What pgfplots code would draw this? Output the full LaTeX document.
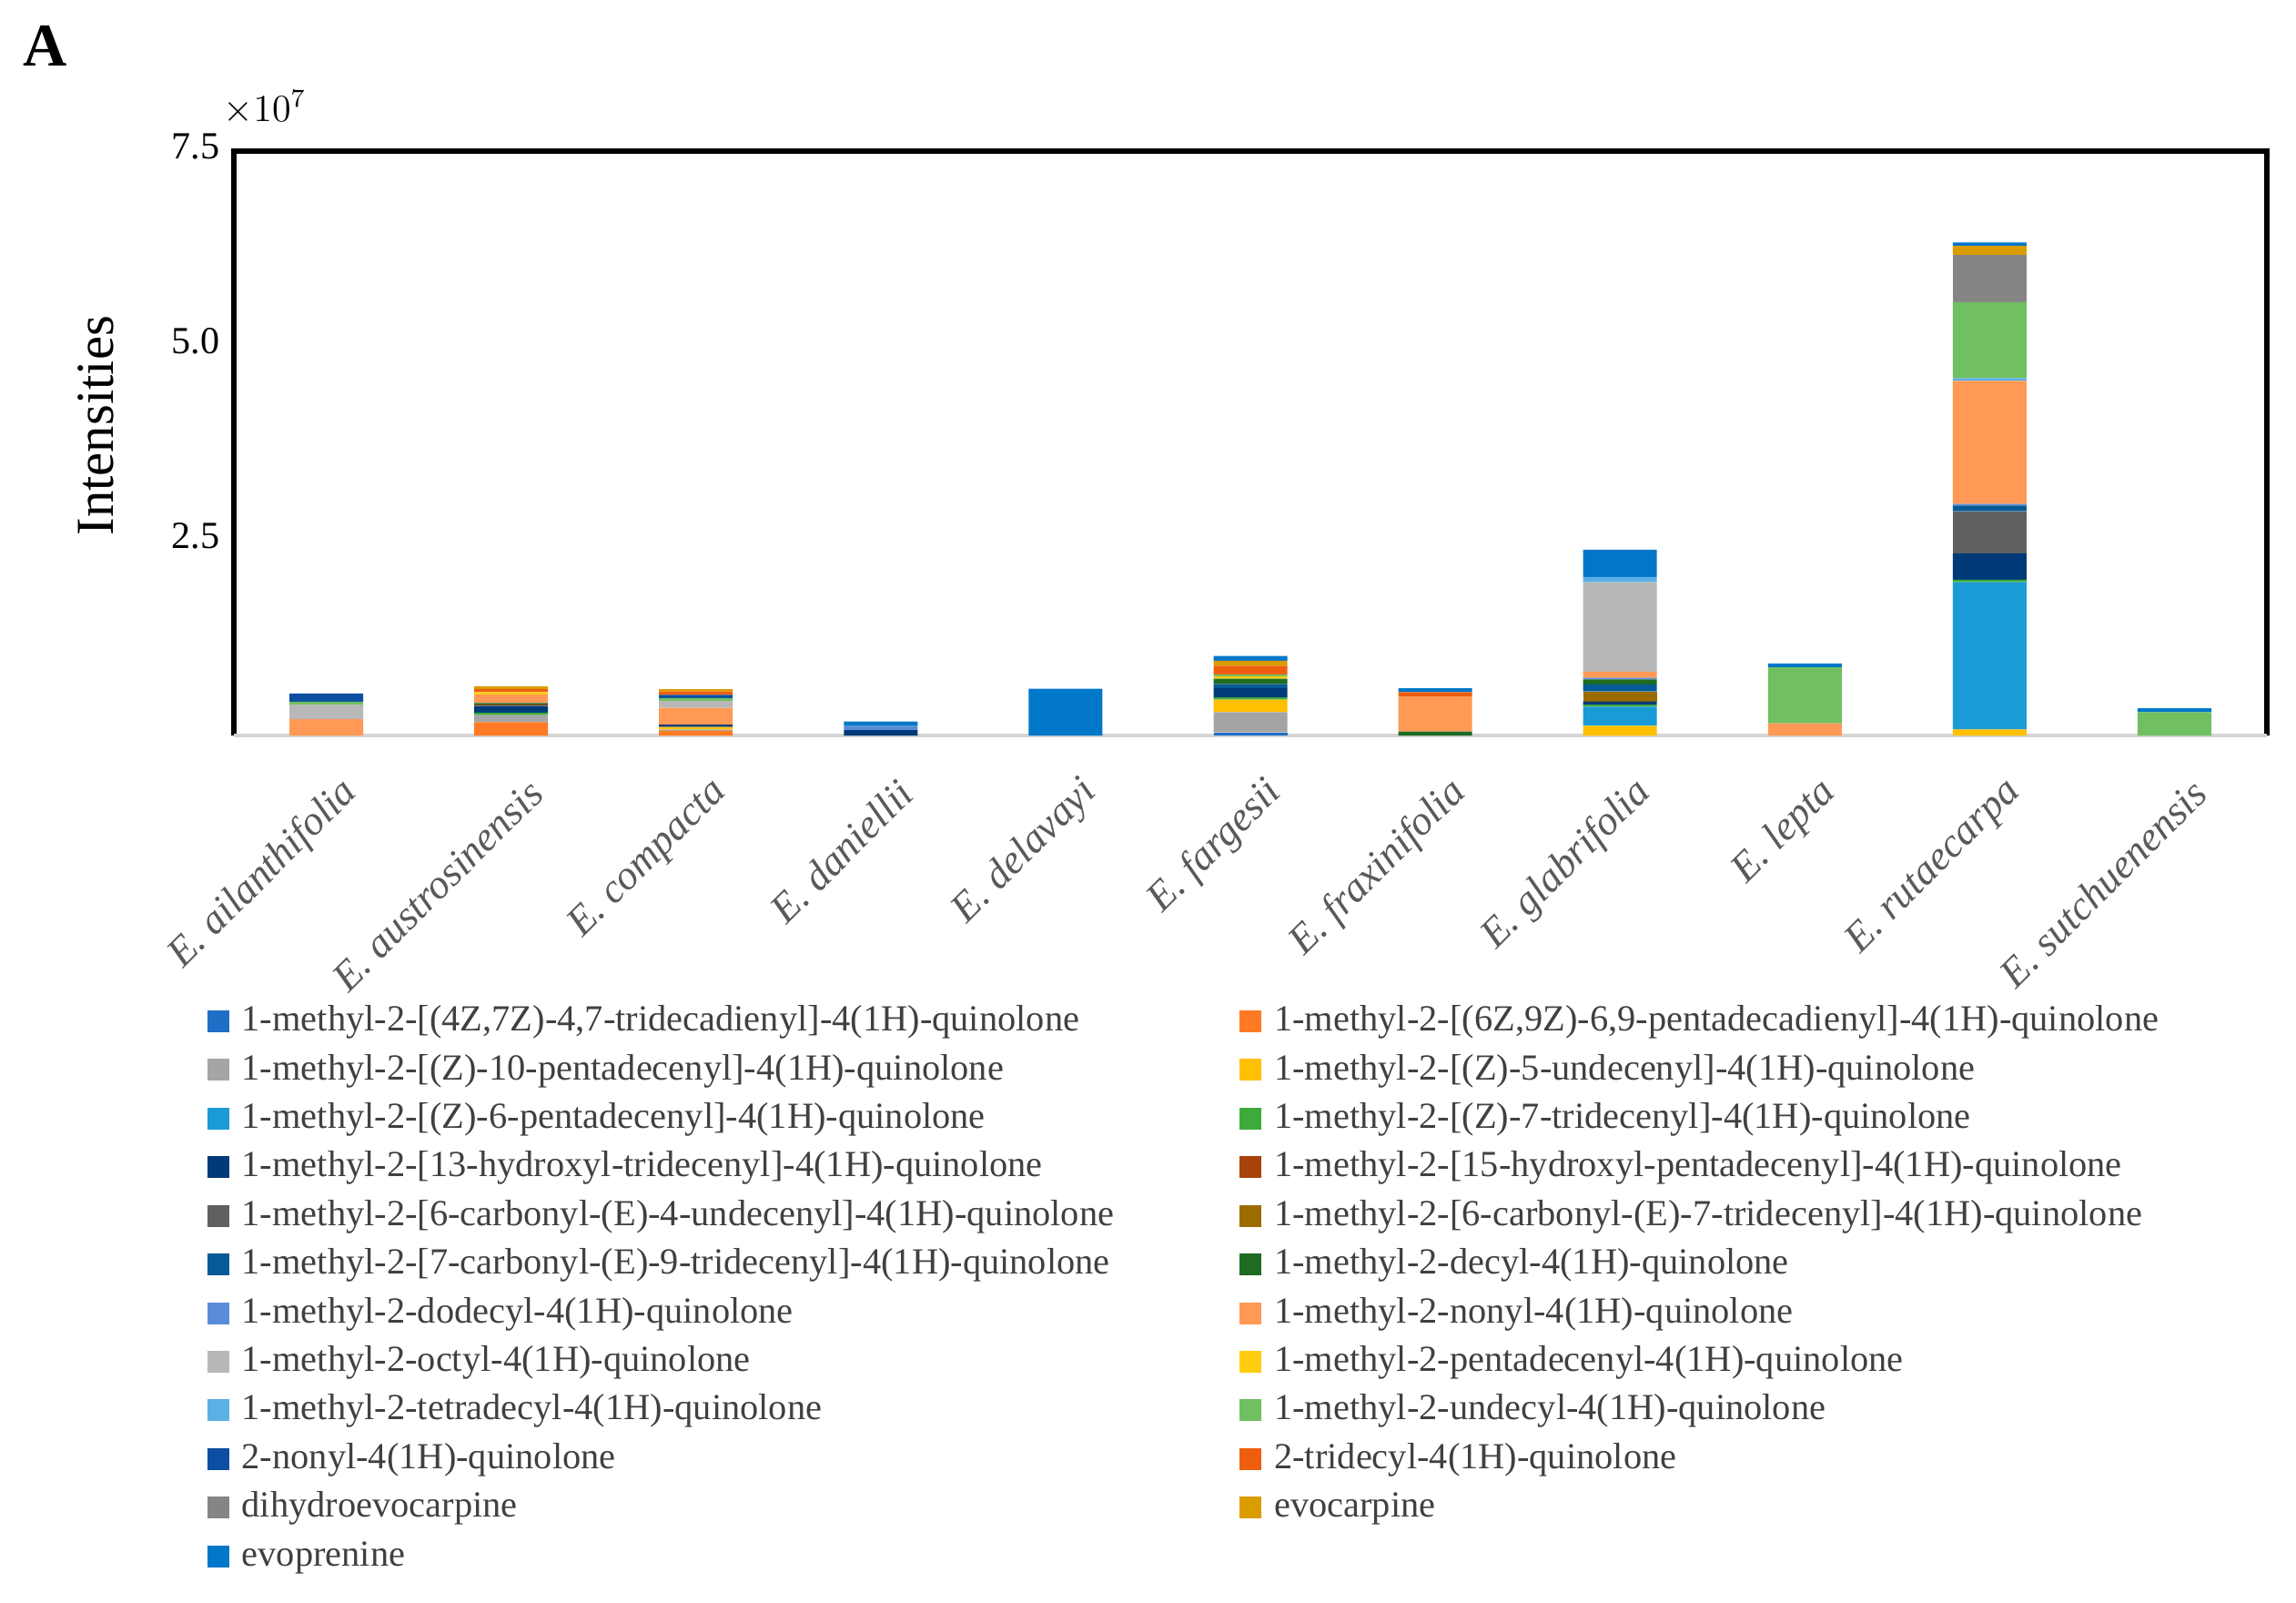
\documentclass[border=0pt]{standalone}
\usepackage{fontspec}
\setmainfont{Liberation Serif}
\usepackage{pgfplots}
\usepackage{pgfplotstable}
\pgfplotsset{compat=1.18}

\definecolor{c1}{HTML}{1F6FC6}
\definecolor{c2}{HTML}{FF7A22}
\definecolor{c3}{HTML}{A5A5A5}
\definecolor{c4}{HTML}{FFC000}
\definecolor{c5}{HTML}{1A9BD7}
\definecolor{c6}{HTML}{3FAA3C}
\definecolor{c7}{HTML}{003A78}
\definecolor{c8}{HTML}{A9410B}
\definecolor{c9}{HTML}{606060}
\definecolor{c10}{HTML}{9C6C00}
\definecolor{c11}{HTML}{065A96}
\definecolor{c12}{HTML}{1E6B24}
\definecolor{c13}{HTML}{5B8CD8}
\definecolor{c14}{HTML}{FF9955}
\definecolor{c15}{HTML}{B8B8B8}
\definecolor{c16}{HTML}{FFCD0F}
\definecolor{c17}{HTML}{5CB0E3}
\definecolor{c18}{HTML}{70BF60}
\definecolor{c19}{HTML}{0B4EA2}
\definecolor{c20}{HTML}{EE5E0E}
\definecolor{c21}{HTML}{858585}
\definecolor{c22}{HTML}{DB9C00}
\definecolor{c23}{HTML}{0077C8}
\definecolor{lblgray}{HTML}{595959}
\definecolor{leggray}{HTML}{404040}
\definecolor{basegray}{HTML}{D4D4D4}

% intensities in units of 1e7
\pgfplotstableread{
x s1 s2 s3 s4 s5 s6 s7 s8 s9 s10 s11 s12 s13 s14 s15 s16 s17 s18 s19 s20 s21 s22 s23
0 0 0 0 0 0 0 0 0 0 0 0 0 0 0.21 0.19 0 0 0.035 0.105 0 0 0 0
1 0 0.17 0.09 0 0 0.035 0.085 0.012 0 0 0 0.025 0 0.11 0 0.03 0 0 0 0.04 0 0.035 0
2 0 0.06 0.015 0.035 0 0 0.03 0 0 0 0 0 0 0.215 0.09 0 0 0.035 0.04 0.045 0 0.03 0
3 0 0 0 0 0 0 0.07 0 0 0 0 0 0.05 0 0 0 0 0 0 0 0 0 0.06
4 0 0 0 0 0 0 0 0 0 0 0 0 0 0 0 0 0 0 0 0 0 0 0.60
5 0.04 0 0.26 0.16 0 0.03 0.12 0 0 0 0.05 0.07 0 0 0 0.03 0 0.025 0 0.11 0 0.065 0.06
6 0 0 0 0 0 0 0 0 0 0 0 0.05 0 0.45 0 0 0 0 0 0.055 0 0 0.05
7 0 0 0 0.125 0.245 0.027 0.04 0 0 0.128 0.09 0.066 0.02 0.078 1.149 0 0.066 0 0 0 0 0 0.35
8 0 0 0 0 0 0 0 0 0 0 0 0 0 0.156 0 0 0 0.72 0 0 0 0 0.047
9 0 0 0 0.078 1.89 0.03 0.34 0 0.54 0 0.074 0 0.02 1.58 0 0 0.035 0.974 0 0 0.606 0.117 0.043
10 0 0 0 0 0 0 0 0 0 0 0 0 0 0 0 0 0 0.30 0 0 0 0 0.05
}\data

\begin{document}
\begin{tikzpicture}
\begin{axis}[
  width=22.34cm, height=6.42cm, scale only axis,
  ybar stacked, bar width=0.81cm,
  xmin=-0.5, xmax=10.5, ymin=0, ymax=7.5,
  clip=false,
  axis line style={draw=none},
  major tick length=0pt,
  xtick={0,...,10},
  xticklabels={E. ailanthifolia, E. austrosinensis, E. compacta, E. daniellii, E. delavayi, E. fargesii, E. fraxinifolia, E. glabrifolia, E. lepta, E. rutaecarpa, E. sutchuenensis},
  xticklabel style={xshift=0.28cm, yshift=-0.56cm, rotate=45, anchor=east, inner sep=0pt,
    font=\fontsize{12.8}{15}\selectfont\itshape, text=lblgray},
  ytick={2.5,5,7.5},
  /pgf/number format/assume math mode=true,
  yticklabel style={/pgf/number format/.cd, fixed, fixed zerofill, precision=1, /tikz/.cd,
    inner sep=0pt, xshift=-0.15cm, yshift=0.05cm, font=\fontsize{12}{14}\selectfont},
  ylabel={Intensities},
  ylabel style={at={(axis description cs:-0.068,0.53)}, anchor=center, font=\fontsize{16.7}{20}\selectfont},
  legend columns=2,
  legend cell align=left,
  legend image code/.code={\fill[#1] (0cm,-0.12cm) rectangle (0.24cm,0.12cm);},
  legend style={at={(axis description cs:-0.0134,-0.458)}, anchor=north west,
    draw=none, fill=none, inner sep=0pt, text=leggray,
    font=\fontsize{11.5}{14}\selectfont, row sep=4.2pt,
    nodes={inner sep=0pt, text height=8.5pt, text depth=2.5pt},
    /tikz/every odd column/.append style={column sep=0.14cm},
    /tikz/every even column/.append style={column sep=1.38cm}},
]
\addplot[fill=c1, draw=none] table[x=x, y=s1] {\data};
\addlegendentry{1-methyl-2-[(4Z,7Z)-4,7-tridecadienyl]-4(1H)-quinolone}
\addplot[fill=c2, draw=none] table[x=x, y=s2] {\data};
\addlegendentry{1-methyl-2-[(6Z,9Z)-6,9-pentadecadienyl]-4(1H)-quinolone}
\addplot[fill=c3, draw=none] table[x=x, y=s3] {\data};
\addlegendentry{1-methyl-2-[(Z)-10-pentadecenyl]-4(1H)-quinolone}
\addplot[fill=c4, draw=none] table[x=x, y=s4] {\data};
\addlegendentry{1-methyl-2-[(Z)-5-undecenyl]-4(1H)-quinolone}
\addplot[fill=c5, draw=none] table[x=x, y=s5] {\data};
\addlegendentry{1-methyl-2-[(Z)-6-pentadecenyl]-4(1H)-quinolone}
\addplot[fill=c6, draw=none] table[x=x, y=s6] {\data};
\addlegendentry{1-methyl-2-[(Z)-7-tridecenyl]-4(1H)-quinolone}
\addplot[fill=c7, draw=none] table[x=x, y=s7] {\data};
\addlegendentry{1-methyl-2-[13-hydroxyl-tridecenyl]-4(1H)-quinolone}
\addplot[fill=c8, draw=none] table[x=x, y=s8] {\data};
\addlegendentry{1-methyl-2-[15-hydroxyl-pentadecenyl]-4(1H)-quinolone}
\addplot[fill=c9, draw=none] table[x=x, y=s9] {\data};
\addlegendentry{1-methyl-2-[6-carbonyl-(E)-4-undecenyl]-4(1H)-quinolone}
\addplot[fill=c10, draw=none] table[x=x, y=s10] {\data};
\addlegendentry{1-methyl-2-[6-carbonyl-(E)-7-tridecenyl]-4(1H)-quinolone}
\addplot[fill=c11, draw=none] table[x=x, y=s11] {\data};
\addlegendentry{1-methyl-2-[7-carbonyl-(E)-9-tridecenyl]-4(1H)-quinolone}
\addplot[fill=c12, draw=none] table[x=x, y=s12] {\data};
\addlegendentry{1-methyl-2-decyl-4(1H)-quinolone}
\addplot[fill=c13, draw=none] table[x=x, y=s13] {\data};
\addlegendentry{1-methyl-2-dodecyl-4(1H)-quinolone}
\addplot[fill=c14, draw=none] table[x=x, y=s14] {\data};
\addlegendentry{1-methyl-2-nonyl-4(1H)-quinolone}
\addplot[fill=c15, draw=none] table[x=x, y=s15] {\data};
\addlegendentry{1-methyl-2-octyl-4(1H)-quinolone}
\addplot[fill=c16, draw=none] table[x=x, y=s16] {\data};
\addlegendentry{1-methyl-2-pentadecenyl-4(1H)-quinolone}
\addplot[fill=c17, draw=none] table[x=x, y=s17] {\data};
\addlegendentry{1-methyl-2-tetradecyl-4(1H)-quinolone}
\addplot[fill=c18, draw=none] table[x=x, y=s18] {\data};
\addlegendentry{1-methyl-2-undecyl-4(1H)-quinolone}
\addplot[fill=c19, draw=none] table[x=x, y=s19] {\data};
\addlegendentry{2-nonyl-4(1H)-quinolone}
\addplot[fill=c20, draw=none] table[x=x, y=s20] {\data};
\addlegendentry{2-tridecyl-4(1H)-quinolone}
\addplot[fill=c21, draw=none] table[x=x, y=s21] {\data};
\addlegendentry{dihydroevocarpine}
\addplot[fill=c22, draw=none] table[x=x, y=s22] {\data};
\addlegendentry{evocarpine}
\addplot[fill=c23, draw=none] table[x=x, y=s23] {\data};
\addlegendentry{evoprenine}

% frame: heavy black on three sides, light base line
\draw[basegray, line width=0.9pt] (rel axis cs:0,0) -- (rel axis cs:1,0);
\draw[black, line width=1.5pt] (rel axis cs:0,0) -- (rel axis cs:0,1) -- (rel axis cs:1,1) -- (rel axis cs:1,0);
\node[anchor=base west, inner sep=0pt, font=\fontsize{12}{14}\selectfont]
  at (axis description cs:-0.0054,1.0514) {$\times 10^{7}$};
\node[anchor=center, inner sep=0pt, font=\fontsize{19}{22}\selectfont\bfseries]
  at (axis description cs:-0.0927,1.1807) {A};
\path (axis description cs:-0.11504,1.2586) rectangle (axis description cs:1.01432,-1.4844);
\end{axis}
\end{tikzpicture}
\end{document}
